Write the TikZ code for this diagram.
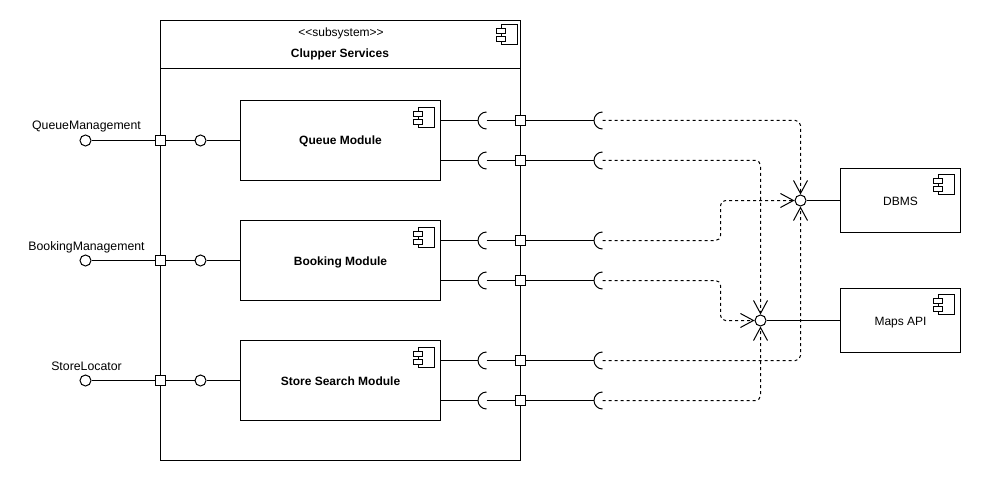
\documentclass[tikz,border=0pt]{standalone}
\usepackage{fontspec}
\setmainfont{Liberation Sans}
\usetikzlibrary{arrows.meta}
\tikzset{
    box/.style={draw, line width=1pt, inner sep=0pt, fill=white},
    port/.style={draw, line width=1pt, fill=white, minimum size=10pt, inner sep=0pt},
    ball/.style={draw, line width=1pt, fill=white, circle, minimum size=11pt, inner sep=0pt},
    wire/.style={line width=1pt},
    link/.style={line width=1pt, dash pattern=on 3pt off 3pt, rounded corners=5pt, -{Straight Barb[length=13pt,width=14pt,line width=1pt]}},
    plug/.style={line width=1pt},
    title/.style={anchor=base, font=\bfseries\fontsize{12}{14}\selectfont},
    label/.style={anchor=base, font=\fontsize{12}{14}\selectfont},
    iface/.style={anchor=base, font=\fontsize{12.3}{14}\selectfont},
    compicon/.pic={
        \draw[line width=1pt] (-16,0) rectangle (0,20);
        \draw[line width=1pt, fill=white] (-21,4) rectangle (-12,9);
        \draw[line width=1pt, fill=white] (-21,12) rectangle (-12,17);
    }
}
\begin{document}
\begin{tikzpicture}[x=1pt, y=-1pt]
    \useasboundingbox (-0.5,-0.5) rectangle (980.5,480.5);

    % Subsystem frame
    \node[box, minimum width=360pt, minimum height=440pt] (Sub) at (340,240) {};
    \coordinate (SubL) at (160,68);
    \coordinate (SubR) at (520,68);
    \draw[wire] (SubL) -- (SubR);
    \node[label] (SubStereo) at (340.5,36) {<{}<subsystem>{}>};
    \node[title] (SubName) at (339.5,57.5) {Clupper Services};
    \pic at (516.5,24) {compicon};

    % Modules and their interfaces
    \foreach \i/\y/\t/\l in {0/140/Queue Module/QueueManagement, 1/260/Booking Module/BookingManagement, 2/380/Store Search Module/StoreLocator} {
        \node[box, minimum width=200pt, minimum height=80pt] (M\i) at (340,\y) {};
        \node[title] (T\i) at (340,\y+4.5) {\t};
        \pic at (433.5,\y-33) {compicon};

        % Left side
        \node[ball] (Ext\i) at (85,\y) {};
        \node[iface] (L\i) at (86,\y-10.5) {\l};
        \node[port] (In\i) at (160,\y) {};
        \node[ball] (Prov\i) at (200,\y) {};
        \draw[wire] (Ext\i) -- (In\i);
        \draw[wire] (In\i) -- (Prov\i);
        \draw[wire] (Prov\i) -- (M\i.west);

        % Right side
        \foreach \j/\dy in {0/-20, 1/20} {
            \coordinate (A\i\j) at (440,\y+\dy);
            \coordinate (SA\i\j) at (486,\y+\dy);
            \coordinate (LA\i\j) at (477.5,\y+\dy);
            \node[port] (Out\i\j) at (520,\y+\dy) {};
            \coordinate (SB\i\j) at (602,\y+\dy);
            \coordinate (LB\i\j) at (593.5,\y+\dy);
            \draw[wire] (A\i\j) -- (LA\i\j);
            \draw[wire] (SA\i\j) -- (Out\i\j);
            \draw[wire] (Out\i\j) -- (LB\i\j);
            \draw[plug] (SA\i\j) ++(0,8.5) arc[start angle=90, end angle=270, radius=8.5];
            \draw[plug] (SB\i\j) ++(0,8.5) arc[start angle=90, end angle=270, radius=8.5];
        }
    }

    % External components
    \node[box, minimum width=120pt, minimum height=64pt] (DBMS) at (900,200) {};
    \node[label] (DBMSName) at (900,205) {DBMS};
    \pic at (953.5,174) {compicon};
    \node[box, minimum width=120pt, minimum height=64pt] (Maps) at (900,320) {};
    \node[label] (MapsName) at (900,325) {Maps API};
    \pic at (953.5,294) {compicon};

    \node[ball] (JD) at (800,200) {};
    \node[ball] (JM) at (760,320) {};
    \draw[wire] (JD) -- (DBMS);
    \draw[wire] (JM) -- (Maps);

    % Dashed links
    \draw[link] (SB00) -| (JD.north);
    \draw[link] (SB01) -| (JM.north);
    \draw[link] (SB10) -- (720,240) -- (720,200) -- (JD.west);
    \draw[link] (SB11) -- (720,280) -- (720,320) -- (JM.west);
    \draw[link] (SB20) -| (JD.south);
    \draw[link] (SB21) -| (JM.south);
\end{tikzpicture}
\end{document}
